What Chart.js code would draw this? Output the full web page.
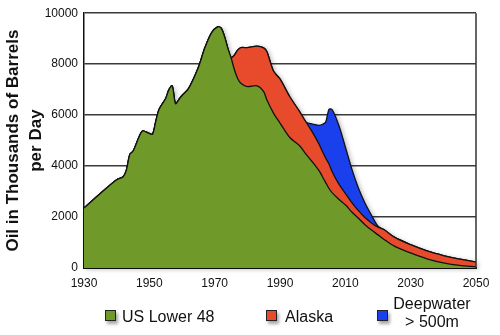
<!DOCTYPE html>
<html>
<head>
<meta charset="utf-8">
<script src="https://cdn.jsdelivr.net/npm/chart.js@4.4.1/dist/chart.umd.min.js"></script>
<style>
  html, body { margin: 0; padding: 0; background: #fff; }
  #wrap { position: relative; width: 500px; height: 335px; font-family: "Liberation Sans", Arial, sans-serif; }
  #grafico { position: absolute; left: 0; top: 0; }
  .leg { position: absolute; font-size: 16px; color: #111; line-height: 1; white-space: nowrap; }
  .caixa { position: absolute; width: 9px; height: 9px; border: 1px solid #222; box-shadow: 2px 3px 3px rgba(0,0,0,0.35); }
</style>
</head>
<body>
<div id="wrap">
  <canvas id="grafico" width="500" height="335"></canvas>
</div>
<script>
// Anos e producao (milhares de barris por dia)
const anos = [1930, 1935, 1940, 1942, 1943, 1944, 1945, 1947, 1948, 1950,
  1951, 1952, 1953, 1955, 1956, 1957, 1958, 1959, 1960, 1962,
  1965, 1967, 1969, 1971, 1972, 1973, 1974, 1975, 1976, 1977,
  1978, 1980, 1983, 1985, 1986, 1988, 1990, 1993, 1996, 1998,
  2000, 2002, 2003, 2004, 2005, 2006, 2008, 2010, 2012, 2014,
  2016, 2018, 2020, 2022, 2025, 2030, 2035, 2040, 2045, 2050];

const lower48 = [2350, 2920, 3460, 3580, 3850, 4450, 4580, 5190, 5380, 5280,
  5250, 5770, 6230, 6650, 7000, 7150, 6450, 6600, 6770, 7040,
  7870, 8640, 9220, 9470, 9410, 9090, 8640, 8260, 7800, 7450,
  7250, 7120, 7150, 6920, 6590, 6080, 5690, 5120, 4800, 4460,
  4150, 3810, 3580, 3350, 3120, 2950, 2700, 2480, 2200, 1950,
  1700, 1490, 1300, 1110, 860, 590, 360, 200, 100, 50];

const alaska = [0, 0, 0, 0, 0, 0, 0, 0, 0, 0,
  0, 0, 0, 0, 0, 0, 0, 0, 0, 0,
  0, 0, 0, 0, 0, 0, 0, 0, 550, 1100,
  1400, 1530, 1560, 1720, 1900, 1650, 1730, 1600, 1340, 1260,
  1160, 1040, 990, 960, 960, 820, 600, 450, 370, 300,
  280, 280, 300, 380, 350, 325, 310, 290, 250, 190];

const deepwater = [0, 0, 0, 0, 0, 0, 0, 0, 0, 0,
  0, 0, 0, 0, 0, 0, 0, 0, 0, 0,
  0, 0, 0, 0, 0, 0, 0, 0, 0, 0,
  0, 0, 0, 0, 0, 0, 0, 0, 0, 0,
  340, 750, 1070, 1420, 2150, 2440, 2300, 1820, 1310, 890,
  570, 300, 40, 0, 0, 0, 0, 0, 0, 0];

const nomes = ['US Lower 48', 'Alaska', ['Deepwater', '> 500m']];
const cores = ['#6f9a29', '#e84a2c', '#1a40ee'];
const ticksX = [1930, 1950, 1970, 1990, 2010, 2030, 2050];
const ticksY = [0, 2000, 4000, 6000, 8000, 10000];

// borda direita da area do grafico
const bordaDireita = {
  id: 'bordaDireita',
  afterDatasetsDraw(chart) {
    const { ctx, chartArea: a } = chart;
    ctx.save();
    ctx.strokeStyle = '#333';
    ctx.lineWidth = 1.5;
    ctx.beginPath();
    ctx.moveTo(a.right, a.top);
    ctx.lineTo(a.right, a.bottom);
    ctx.stroke();
    ctx.restore();
  }
};

// sombra suave por baixo da silhueta das areas
const sombra = {
  id: 'sombra',
  beforeDatasetsDraw(chart) {
    const linha = chart.getDatasetMeta(2).dataset;
    if (!linha || !linha.path) return;
    const { ctx, chartArea: a } = chart;
    ctx.save();
    ctx.beginPath();
    linha.path(ctx);
    ctx.lineTo(a.right, a.bottom);
    ctx.lineTo(a.left, a.bottom);
    ctx.closePath();
    ctx.shadowColor = 'rgba(0,0,0,0.3)';
    ctx.shadowBlur = 5;
    ctx.shadowOffsetX = 2;
    ctx.shadowOffsetY = 1;
    ctx.fillStyle = '#fff';
    ctx.fill();
    ctx.restore();
  }
};

function serie(valores, i) {
  return {
    label: Array.isArray(nomes[i]) ? nomes[i].join(' ') : nomes[i],
    data: anos.map((a, k) => ({ x: a, y: valores[k] })),
    backgroundColor: cores[i],
    borderColor: '#111',
    borderWidth: 1.3,
    fill: i === 0 ? 'origin' : '-1',
    pointRadius: 0,
    tension: 0.3
  };
}

const fonte = '"Liberation Sans", Arial, sans-serif';

new Chart(document.getElementById('grafico'), {
  type: 'line',
  data: { datasets: [serie(lower48, 0), serie(alaska, 1), serie(deepwater, 2)] },
  options: {
    responsive: false,
    animation: false,
    layout: { padding: { top: 8, right: 24, left: 0, bottom: 0 } },
    plugins: { legend: { display: false }, tooltip: { enabled: false } },
    scales: {
      x: {
        type: 'linear',
        min: 1930,
        max: 2050,
        afterBuildTicks: s => { s.ticks = ticksX.map(v => ({ value: v })); },
        afterFit: s => { s.height = 67; },
        grid: { display: false, drawTicks: false },
        border: { display: true, color: '#111', width: 2 },
        ticks: { padding: 8, color: '#111', font: { family: fonte, size: 12 }, callback: v => String(v), maxRotation: 0 }
      },
      y: {
        stacked: true,
        min: 0,
        max: 10000,
        afterBuildTicks: s => { s.ticks = ticksY.map(v => ({ value: v })); },
        afterFit: s => { s.width = 84; },
        grid: { color: '#3a3a3a', lineWidth: 1.5, drawTicks: false },
        border: { display: true, color: '#111', width: 1.5 },
        ticks: { padding: 6, color: '#111', font: { family: fonte, size: 12 }, callback: v => String(v) },
        title: {
          display: true,
          text: ['Oil in Thousands of Barrels', 'per Day'],
          color: '#111',
          font: { family: fonte, size: 17, weight: 'bold', lineHeight: 1.35 },
          padding: { top: 2, bottom: 0 }
        }
      }
    }
  },
  plugins: [sombra, bordaDireita]
});

// legenda em HTML
const wrap = document.getElementById('wrap');
const posLegenda = [
  { caixa: 105, texto: 122, topo: 308.5 },
  { caixa: 266, texto: 285, topo: 308.5 },
  { caixa: 377, texto: 387, topo: 295 }
];
nomes.forEach((nome, i) => {
  const p = posLegenda[i];
  const c = document.createElement('div');
  c.className = 'caixa';
  c.style.left = p.caixa + 'px';
  c.style.top = '310px';
  c.style.background = cores[i];
  wrap.appendChild(c);
  const t = document.createElement('div');
  t.className = 'leg';
  t.style.left = p.texto + 'px';
  t.style.top = p.topo + 'px';
  if (Array.isArray(nome)) {
    t.style.width = '90px';
    t.style.textAlign = 'center';
    t.style.lineHeight = '17.5px';
    t.innerHTML = nome.join('<br>').replace('> ', '&gt; ');
  } else {
    t.textContent = nome;
  }
  wrap.appendChild(t);
});
</script>
</body>
</html>
